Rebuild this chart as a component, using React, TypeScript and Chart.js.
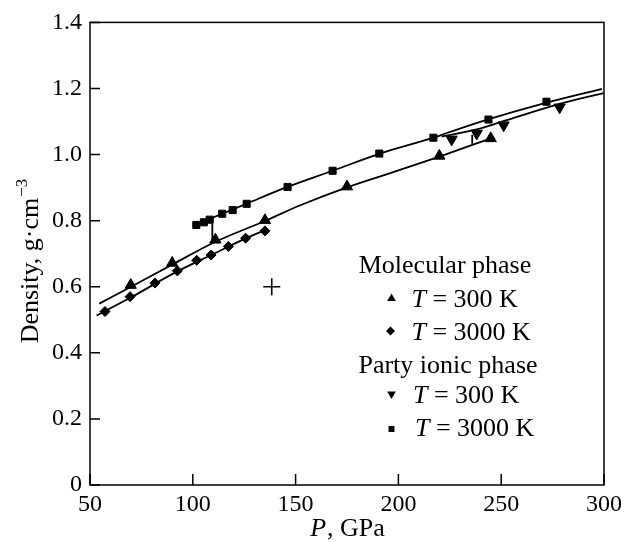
import React, { useEffect, useRef } from 'react';
import { Chart, registerables } from 'chart.js';
import { drawPoint } from 'chart.js/helpers';

Chart.register(...registerables);

// ---- axis ticks ----
const xTickValues = [50, 100, 150, 200, 250, 300];
const yTickValues = [0, 0.2, 0.4, 0.6, 0.8, 1.0, 1.2, 1.4];

// ---- markers (P in GPa, density in g/cm^3) ----
const mol300P = [69.8, 90.0, 111.0, 135.1, 175.0, 219.9, 244.9];
const mol300D = [0.605, 0.672, 0.742, 0.801, 0.903, 0.996, 1.049];

const mol3000P = [57.3, 69.5, 81.6, 92.5, 101.9, 108.9, 117.3, 125.7, 135.1];
const mol3000D = [0.525, 0.570, 0.611, 0.648, 0.680, 0.696, 0.722, 0.747, 0.769];

const ion300P = [225.9, 238.1, 251.2, 278.4];
const ion300D = [1.046, 1.064, 1.089, 1.143];

const ion3000P = [101.7, 105.4, 108.2, 114.3, 119.4, 126.2, 146.1, 168.0, 190.7, 217.0, 243.8, 272.0];
const ion3000D = [0.787, 0.795, 0.803, 0.821, 0.832, 0.851, 0.902, 0.951, 1.003, 1.051, 1.106, 1.160];

// ---- fitted curves ----
const mol300CurveP = [54.5, 70, 90, 111, 135, 152, 175, 200, 220, 245];
const mol300CurveD = [0.549, 0.600, 0.667, 0.736, 0.799, 0.846, 0.901, 0.952, 0.994, 1.049];

const mol3000CurveP = [53.2, 70, 92, 110, 125, 135];
const mol3000CurveD = [0.513, 0.568, 0.645, 0.699, 0.744, 0.771];

const ion3000CurveP = [108.5, 126, 146, 168, 191, 217, 224, 244, 269, 299];
const ion3000CurveD = [0.806, 0.851, 0.902, 0.951, 1.003, 1.051, 1.066, 1.107, 1.152, 1.199];

const ion300CurveP = [221, 238, 251, 278, 299.7];
const ion300CurveD = [1.054, 1.076, 1.101, 1.153, 1.186];

// ---- transition connectors ----
const trans1P = [109.5, 109.5];
const trans1D = [0.736, 0.805];
const trans2P = [235.9, 235.9];
const trans2D = [1.033, 1.060];

// ---- cross marker ----
const crossP = [138.4];
const crossD = [0.600];

// ---- texts ----
const xTitleItalic = 'P';
const xTitleRest = ', GPa';
const yTitleMain = 'Density, g·cm';
const yTitleSup = '−3';
const legendHeaders = ['Molecular phase', 'Party ionic phase'];
const legendLabels = ['= 300 K', '= 3000 K', '= 300 K', '= 3000 K'];

const FONT = '"Liberation Serif", "Times New Roman", serif';

const pts = (xs: number[], ys: number[]) => xs.map((x, i) => ({ x, y: ys[i] }));

const decorPlugin = {
  id: 'decor',
  afterDraw(chart: any) {
    const { ctx, chartArea, scales } = chart;
    const { left, right, top, bottom } = chartArea;
    ctx.save();
    ctx.strokeStyle = '#000';
    ctx.fillStyle = '#000';
    ctx.lineWidth = 1.5;
    ctx.strokeRect(left, top, right - left, bottom - top);
    // inward ticks
    ctx.beginPath();
    xTickValues.forEach((v) => {
      const px = scales.x.getPixelForValue(v);
      ctx.moveTo(px, bottom);
      ctx.lineTo(px, bottom - 11);
    });
    yTickValues.forEach((v) => {
      const py = scales.y.getPixelForValue(v);
      ctx.moveTo(left, py);
      ctx.lineTo(left + 10, py);
    });
    ctx.stroke();

    // x title
    ctx.textBaseline = 'alphabetic';
    ctx.textAlign = 'left';
    ctx.font = `italic 26px ${FONT}`;
    const wP = ctx.measureText(xTitleItalic).width;
    ctx.font = `26px ${FONT}`;
    const wR = ctx.measureText(xTitleRest).width;
    const cx = (left + right) / 2;
    const sx = cx - (wP + wR) / 2;
    ctx.font = `italic 26px ${FONT}`;
    ctx.fillText(xTitleItalic, sx, 536);
    ctx.font = `26px ${FONT}`;
    ctx.fillText(xTitleRest, sx + wP + 1, 536);

    // y title
    ctx.save();
    ctx.font = `26px ${FONT}`;
    const wMain = ctx.measureText(yTitleMain).width;
    ctx.font = `17px ${FONT}`;
    const wSup = ctx.measureText(yTitleSup).width;
    const total = wMain + 1 + wSup;
    const cy = 261;
    ctx.translate(38, cy + total / 2);
    ctx.rotate(-Math.PI / 2);
    ctx.font = `26px ${FONT}`;
    ctx.fillText(yTitleMain, 0, 0);
    ctx.font = `17px ${FONT}`;
    ctx.fillText(yTitleSup, wMain + 1, -11);
    ctx.restore();

    // legend
    const lx = left + 355; // center of headers
    ctx.font = `26px ${FONT}`;
    ctx.textAlign = 'center';
    ctx.fillText(legendHeaders[0], lx, 273);
    ctx.fillText(legendHeaders[1], lx + 3, 373);
    ctx.textAlign = 'left';
    const items = [
      { style: 'triangle', rot: 0, r: 5, mx: 391.5, my: 298.5, tx: 411.5, ty: 307, label: legendLabels[0] },
      { style: 'rectRot', rot: 0, r: 4.5, mx: 390.5, my: 331, tx: 411.5, ty: 340, label: legendLabels[1] },
      { style: 'triangle', rot: 180, r: 5, mx: 391.5, my: 394, tx: 413, ty: 403, label: legendLabels[2] },
      { style: 'rect', rot: 0, r: 4.2, mx: 391.5, my: 429, tx: 415, ty: 436, label: legendLabels[3] },
    ];
    items.forEach((it) => {
      drawPoint(ctx, { pointStyle: it.style, rotation: it.rot, radius: it.r, borderWidth: 0 } as any, it.mx, it.my);
      ctx.font = `italic 26px ${FONT}`;
      ctx.fillText('T', it.tx, it.ty);
      const wT = ctx.measureText('T').width;
      ctx.font = `26px ${FONT}`;
      ctx.fillText(' ' + it.label, it.tx + wT, it.ty);
    });
    ctx.restore();
  },
};

const markerBase = {
  type: 'scatter' as const,
  showLine: false,
  backgroundColor: '#000',
  borderColor: '#000',
  borderWidth: 1,
};

const curveBase = {
  type: 'scatter' as const,
  showLine: true,
  pointRadius: 0,
  borderColor: '#000',
  backgroundColor: '#000',
  borderWidth: 1.8,
  cubicInterpolationMode: 'monotone' as const,
  fill: false,
};

export default function App() {
  const ref = useRef<HTMLCanvasElement | null>(null);
  useEffect(() => {
    if (!ref.current) return;
    const chart = new Chart(ref.current, {
      type: 'scatter',
      data: {
        datasets: [
          { ...markerBase, data: pts(mol300P, mol300D), pointStyle: 'triangle', pointRadius: 6.5 },
          { ...markerBase, data: pts(mol3000P, mol3000D), pointStyle: 'rectRot', pointRadius: 5 },
          { ...markerBase, data: pts(ion300P, ion300D), pointStyle: 'triangle', pointRotation: 180, pointRadius: 6.5 },
          { ...markerBase, data: pts(ion3000P, ion3000D), pointStyle: 'rect', pointRadius: 5 },
          { ...markerBase, data: pts(crossP, crossD), pointStyle: 'cross', pointRadius: 8.5, borderWidth: 1.6 },
          { ...curveBase, data: pts(mol300CurveP, mol300CurveD) },
          { ...curveBase, data: pts(mol3000CurveP, mol3000CurveD) },
          { ...curveBase, data: pts(ion3000CurveP, ion3000CurveD) },
          { ...curveBase, data: pts(ion300CurveP, ion300CurveD) },
          { ...curveBase, data: pts(trans1P, trans1D), cubicInterpolationMode: 'default' as const },
          { ...curveBase, data: pts(trans2P, trans2D), cubicInterpolationMode: 'default' as const },
        ] as any,
      },
      options: {
        animation: false,
        responsive: false,
        maintainAspectRatio: false,
        layout: { padding: { top: 18, right: 34, left: 0, bottom: 0 } },
        plugins: { legend: { display: false }, tooltip: { enabled: false } },
        scales: {
          x: {
            type: 'linear',
            min: 50,
            max: 300,
            afterBuildTicks: (s: any) => { s.ticks = xTickValues.map((v) => ({ value: v })); },
            afterFit: (s: any) => { s.height = 57; },
            grid: { display: false, drawTicks: false },
            border: { display: false },
            ticks: { color: '#000', font: { family: FONT, size: 24 }, padding: 5, maxRotation: 0 },
          },
          y: {
            type: 'linear',
            min: 0,
            max: 1.4,
            afterBuildTicks: (s: any) => { s.ticks = yTickValues.map((v) => ({ value: v })); },
            afterFit: (s: any) => { s.width = 90; },
            grid: { display: false, drawTicks: false },
            border: { display: false },
            ticks: {
              color: '#000',
              font: { family: FONT, size: 24 },
              padding: 8,
              callback: (v: any) => (Number(v) === 0 ? '0' : Number(v).toFixed(1)),
            },
          },
        },
      },
      plugins: [decorPlugin],
    } as any);
    return () => chart.destroy();
  }, []);
  return (
    <canvas
      ref={ref}
      width={638}
      height={542}
      style={{ position: 'absolute', left: 0, top: 0, display: 'block', background: '#fff' }}
    />
  );
}
